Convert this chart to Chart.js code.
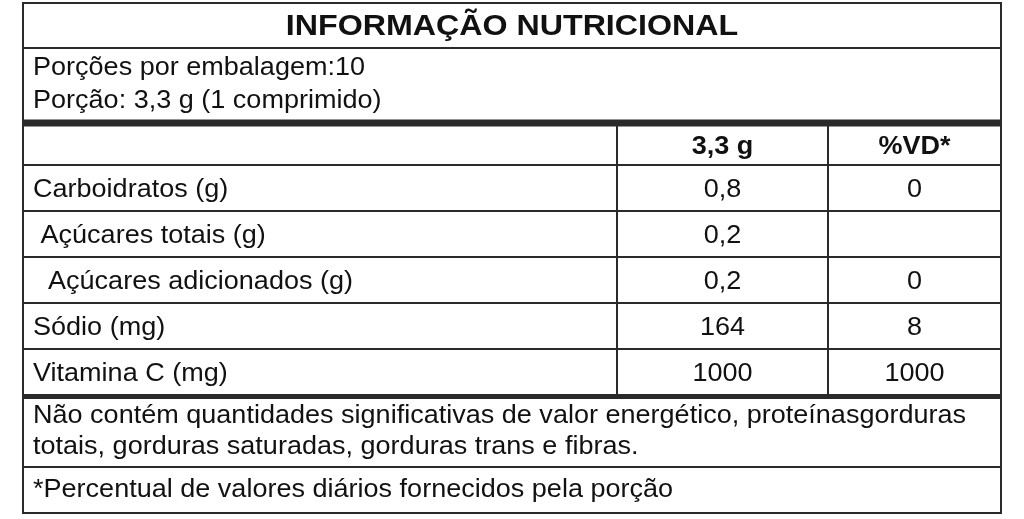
<!DOCTYPE html>
<html>
<head>
<meta charset="utf-8">
<script src="https://cdn.jsdelivr.net/npm/chart.js@4"></script>
<style>
  html, body { margin: 0; padding: 0; background: #fff; }
  #tabela { display: block; }
</style>
</head>
<body>
<canvas id="tabela" width="1024" height="519"></canvas>
<script>
// table content
var titulo = 'INFORMAÇÃO NUTRICIONAL';
var porcoes = ['Porções por embalagem:10', 'Porção: 3,3 g (1 comprimido)'];
var cabecalhos = ['3,3 g', '%VD*'];
var nutrientes = ['Carboidratos (g)', ' Açúcares totais (g)', '  Açúcares adicionados (g)', 'Sódio (mg)', 'Vitamina C (mg)'];
var quantidades = ['0,8', '0,2', '0,2', '164', '1000'];
var valoresDiarios = ['0', '', '0', '8', '1000'];
var notas = ['Não contém quantidades significativas de valor energético, proteínasgorduras', 'totais, gorduras saturadas, gorduras trans e fibras.'];
var rodape = '*Percentual de valores diários fornecidos pela porção';

document.addEventListener('DOMContentLoaded', function() {
    var canvas = document.getElementById('tabela');
    var ctx = canvas.getContext('2d');

    // layout in image units (x: 0..1024, y: 0..519 top-down)
    var L = {
        left: 23, col1: 617, col2: 828, right: 1001,
        top: 3, titleLine: 48, thick1: 123, headerLine: 165,
        rowH: 46, thick2: 396.5, noteLine: 467, bottom: 513
    };
    var ink = '#111';
    var line = '#2a2a2a';
    var fontBody = '25.5px "Liberation Sans", Arial, sans-serif';
    var fontBold = 'bold 25.5px "Liberation Sans", Arial, sans-serif';
    var fontTitle = 'bold 29px "Liberation Sans", Arial, sans-serif';

    function texto(c, s, x, y, font, align, sx) {
        c.save();
        c.font = font;
        c.fillStyle = ink;
        c.textAlign = align;
        c.textBaseline = 'alphabetic';
        c.translate(x, y);
        c.scale(sx, 1);
        c.fillText(s, 0, 0);
        c.restore();
    }

    var tablePlugin = {
        id: 'tabelaNutricional',
        afterDraw: function(chart) {
            var c = chart.ctx;
            var xs = chart.scales.x, ys = chart.scales.y;
            var X = function(v) { return xs.getPixelForValue(v); };
            var Y = function(v) { return ys.getPixelForValue(v); };

            function hline(y, w, x0, x1) {
                c.beginPath();
                c.lineWidth = w;
                c.strokeStyle = line;
                c.moveTo(X(x0 === undefined ? L.left : x0), Y(y));
                c.lineTo(X(x1 === undefined ? L.right : x1), Y(y));
                c.stroke();
            }
            function vline(x, y0, y1, w) {
                c.beginPath();
                c.lineWidth = w;
                c.strokeStyle = line;
                c.moveTo(X(x), Y(y0));
                c.lineTo(X(x), Y(y1));
                c.stroke();
            }

            c.save();
            c.fillStyle = '#fff';
            c.fillRect(0, 0, chart.width, chart.height);
            c.restore();

            // grid
            var lastRow = L.headerLine + L.rowH * nutrientes.length;
            hline(L.titleLine, 2);
            hline(L.thick1, 7);
            hline(L.headerLine, 2);
            for (var i = 1; i < nutrientes.length; i++) {
                hline(L.headerLine + L.rowH * i, 2);
            }
            hline(L.thick2, 5);
            hline(L.noteLine, 2);
            vline(L.col1, L.thick1, lastRow, 2);
            vline(L.col2, L.thick1, lastRow, 2);
            // outer frame
            c.save();
            c.lineWidth = 2;
            c.strokeStyle = line;
            c.strokeRect(X(L.left), Y(L.top), X(L.right) - X(L.left), Y(L.bottom) - Y(L.top));
            c.restore();

            // title
            texto(c, titulo, X((L.left + L.right) / 2), Y(35), fontTitle, 'center', 1.11);
            // serving info
            porcoes.forEach(function(s, k) {
                texto(c, s, X(33), Y(75 + 33 * k), fontBody, 'left', 1.06);
            });
            // headers
            texto(c, cabecalhos[0], X((L.col1 + L.col2) / 2), Y(154), fontBold, 'center', 1.06);
            texto(c, cabecalhos[1], X((L.col2 + L.right) / 2), Y(154), fontBold, 'center', 1.06);
            // rows
            nutrientes.forEach(function(n, k) {
                var base = L.headerLine + L.rowH * k + 32;
                texto(c, n, X(33), Y(base), fontBody, 'left', 1.06);
                texto(c, quantidades[k], X((L.col1 + L.col2) / 2), Y(base), fontBody, 'center', 1.06);
                texto(c, valoresDiarios[k], X((L.col2 + L.right) / 2), Y(base), fontBody, 'center', 1.06);
            });
            // notes
            notas.forEach(function(s, k) {
                texto(c, s, X(33), Y(423 + 31 * k), fontBody, 'left', 1.06);
            });
            texto(c, rodape, X(33), Y(497), fontBody, 'left', 1.06);
        }
    };

    new Chart(ctx, {
        type: 'scatter',
        data: {
            datasets: [{
                data: [],
                pointRadius: 0
            }]
        },
        options: {
            responsive: false,
            maintainAspectRatio: false,
            animation: false,
            events: [],
            layout: { padding: 0 },
            plugins: {
                legend: { display: false },
                tooltip: { enabled: false }
            },
            scales: {
                x: { type: 'linear', min: 0, max: 1024, display: false },
                y: { type: 'linear', min: 0, max: 519, reverse: true, display: false }
            }
        },
        plugins: [tablePlugin]
    });
});
</script>
</body>
</html>
